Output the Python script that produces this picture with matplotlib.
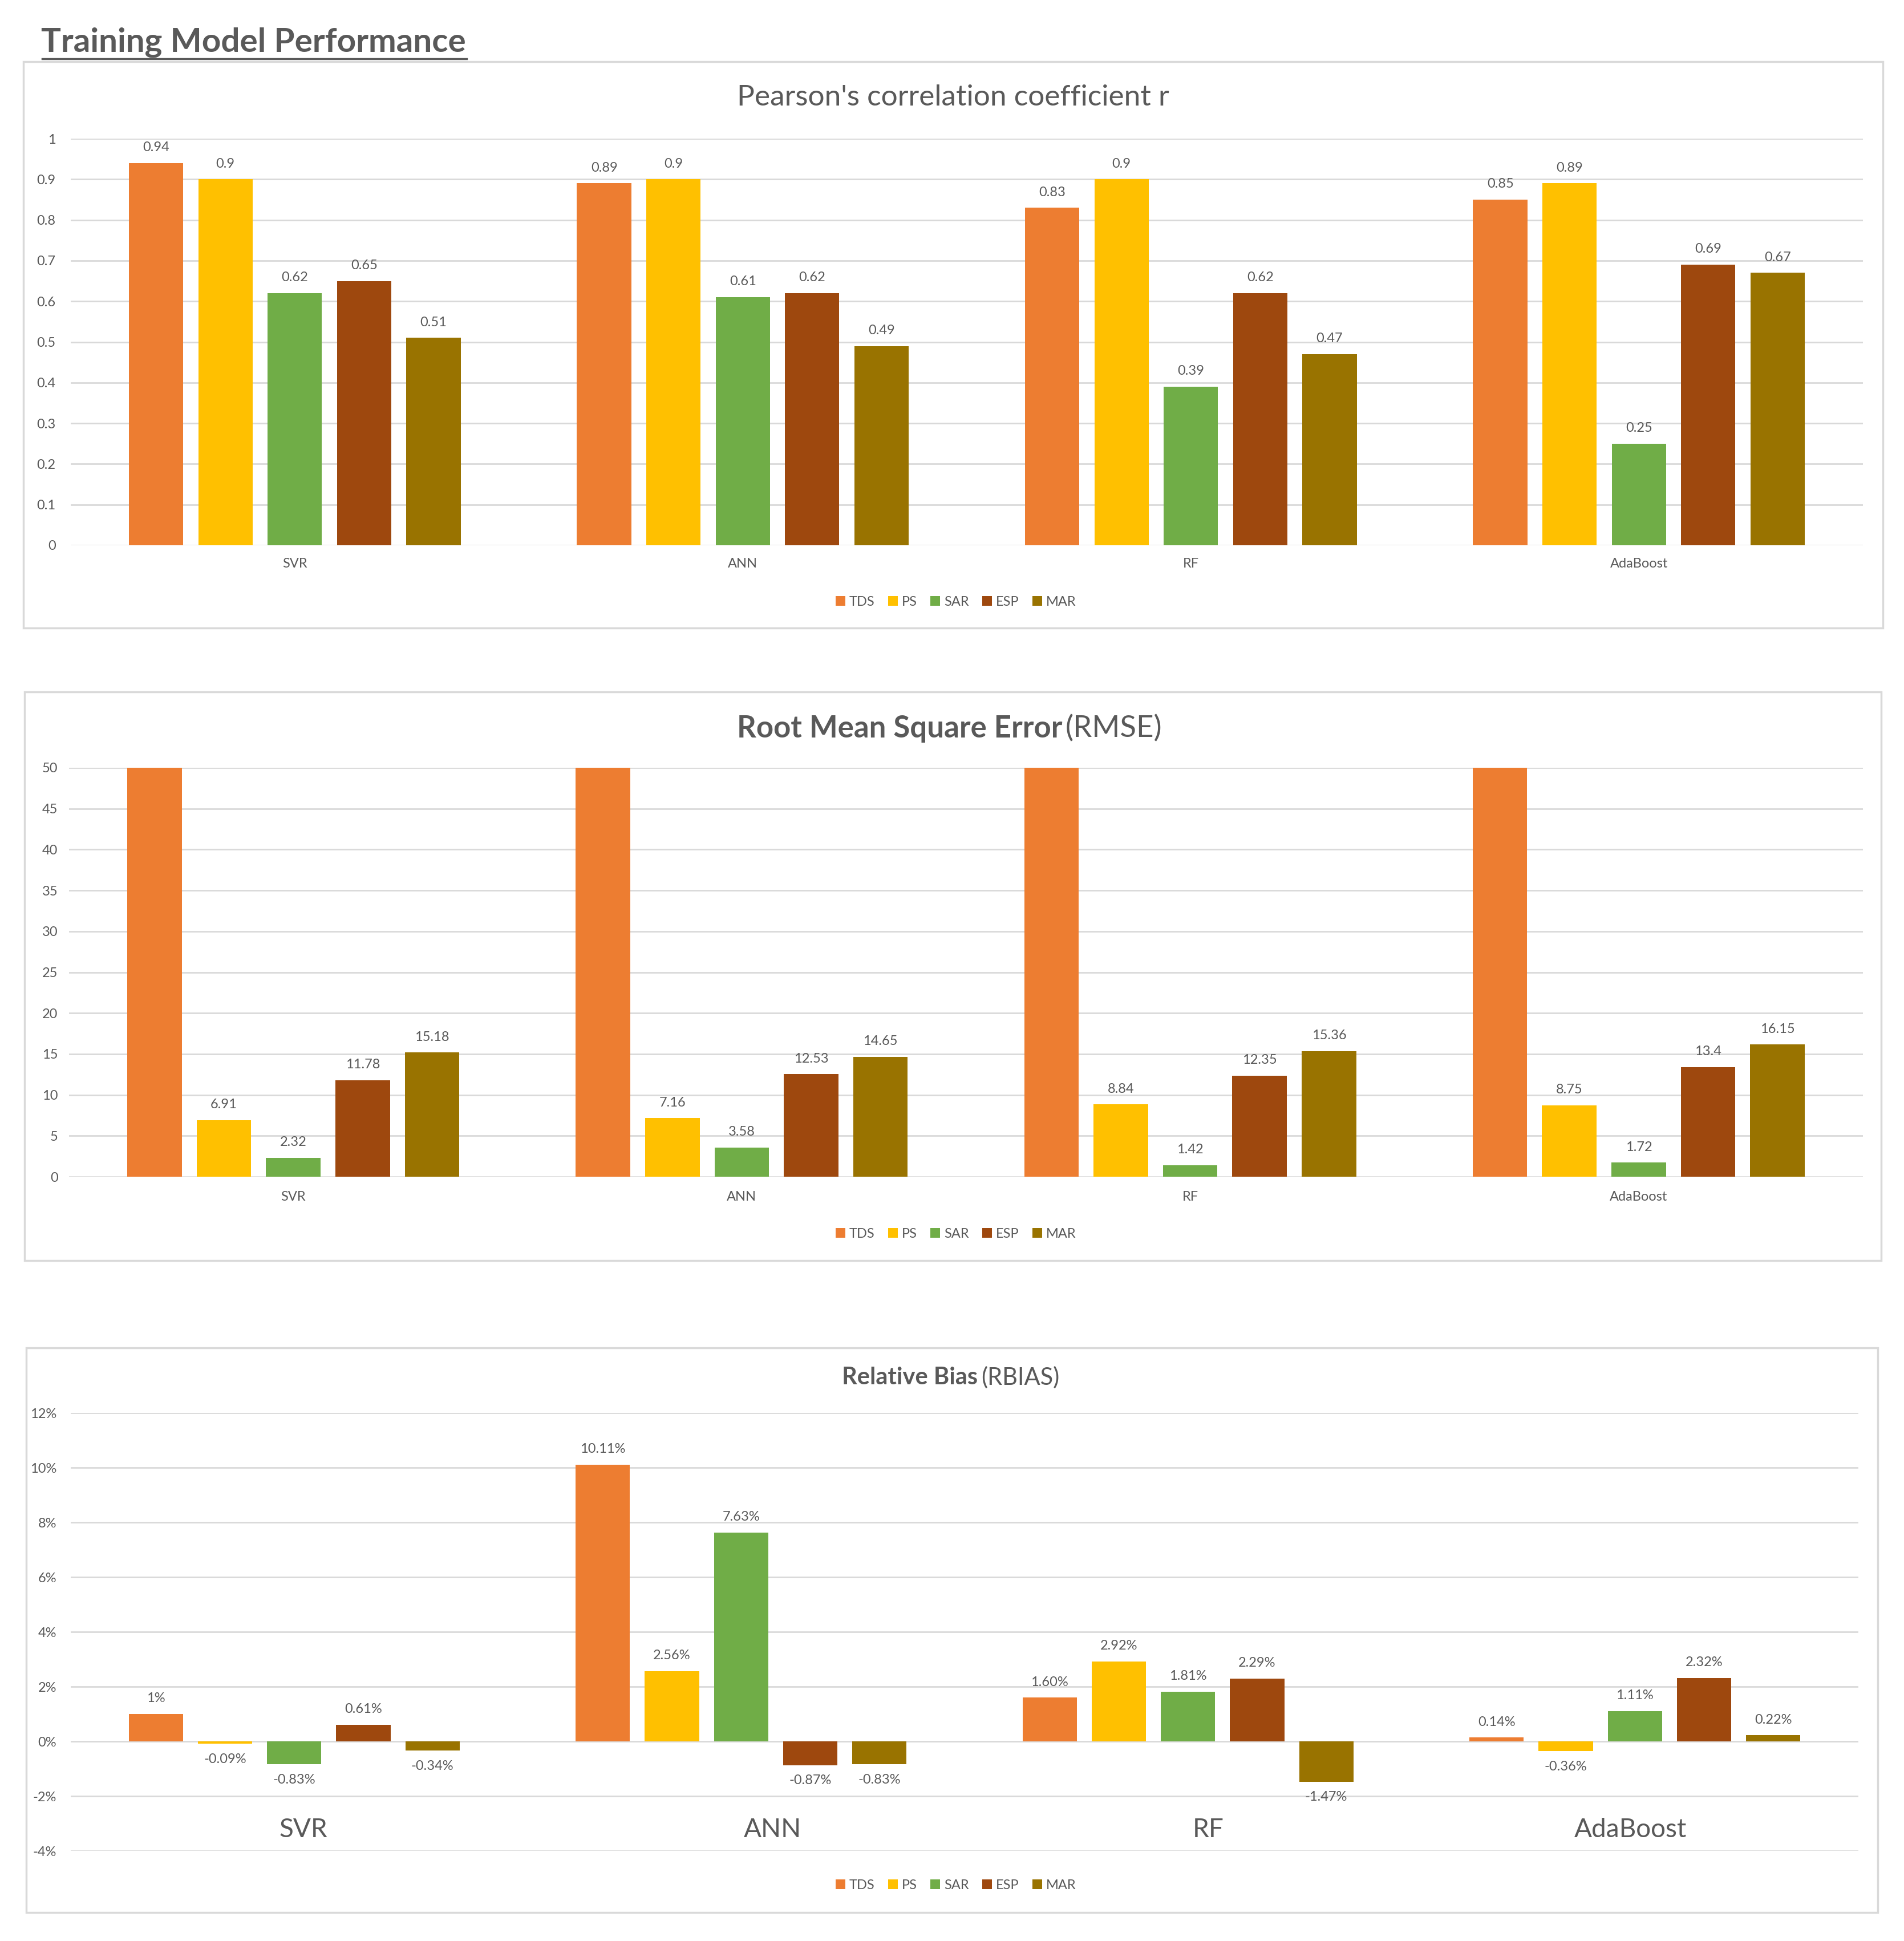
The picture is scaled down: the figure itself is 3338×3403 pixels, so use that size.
import matplotlib
matplotlib.use("Agg")
import matplotlib.pyplot as plt
import numpy as np
from matplotlib.patches import Rectangle
from matplotlib.lines import Line2D

plt.rcParams['font.family'] = ['Lato', 'DejaVu Sans']

models = ["SVR", "ANN", "RF", "AdaBoost"]
series = ["TDS", "PS", "SAR", "ESP", "MAR"]
colors = ["#ED7D31", "#FFC000", "#70AD47", "#9E480E", "#997300"]

# Pearson's r, one list per series (SVR, ANN, RF, AdaBoost)
r_tds = [0.94, 0.89, 0.83, 0.85]
r_ps = [0.9, 0.9, 0.9, 0.89]
r_sar = [0.62, 0.61, 0.39, 0.25]
r_esp = [0.65, 0.62, 0.62, 0.69]
r_mar = [0.51, 0.49, 0.47, 0.67]

# RMSE; TDS bars run off the top of the axis (>= 50), no labels shown
rmse_tds = [50, 50, 50, 50]
rmse_ps = [6.91, 7.16, 8.84, 8.75]
rmse_sar = [2.32, 3.58, 1.42, 1.72]
rmse_esp = [11.78, 12.53, 12.35, 13.4]
rmse_mar = [15.18, 14.65, 15.36, 16.15]

# RBIAS in percent
rb_tds = [1.0, 10.11, 1.60, 0.14]
rb_ps = [-0.09, 2.56, 2.92, -0.36]
rb_sar = [-0.83, 7.63, 1.81, 1.11]
rb_esp = [0.61, -0.87, 2.29, 2.32]
rb_mar = [-0.34, -0.83, -1.47, 0.22]
rb_tds_lbl = ["1%", "10.11%", "1.60%", "0.14%"]
rb_ps_lbl = ["-0.09%", "2.56%", "2.92%", "-0.36%"]
rb_sar_lbl = ["-0.83%", "7.63%", "1.81%", "1.11%"]
rb_esp_lbl = ["0.61%", "-0.87%", "2.29%", "2.32%"]
rb_mar_lbl = ["-0.34%", "-0.83%", "-1.47%", "0.22%"]

TXT = "#595959"
GRID = "#D9D9D9"
W, H = 3338, 3403
FS = 17

fig = plt.figure(figsize=(W / 100, H / 100), dpi=100)


def px_box(left, right, top, bottom):
    return [left / W, 1 - bottom / H, (right - left) / W, (bottom - top) / H]


def bars(ax, data, labels, show):
    x = np.arange(len(models))
    step = 0.1547
    width = 0.1215
    for i, vals in enumerate(data):
        b = ax.bar(x + (i - 2) * step, vals, width, color=colors[i], label=series[i], zorder=3)
        if not show[i]:
            continue
        for rect, v, lab in zip(b, vals, labels[i]):
            cx = rect.get_x() + rect.get_width() / 2
            if v >= 0:
                ax.annotate(lab, (cx, v), xytext=(0, 12), textcoords="offset points",
                            ha="center", va="bottom", fontsize=FS, color=TXT)
            else:
                ax.annotate(lab, (cx, v), xytext=(0, -12), textcoords="offset points",
                            ha="center", va="top", fontsize=FS, color=TXT)
    ax.set_xlim(-0.5, len(models) - 0.5)
    for s in ax.spines.values():
        s.set_visible(False)
    ax.yaxis.grid(True, color=GRID, lw=2)
    ax.set_axisbelow(True)
    ax.tick_params(axis="both", length=0, labelsize=FS, labelcolor=TXT)


def panel_box(left, right, top, bottom):
    fig.patches.append(Rectangle((left / W, 1 - bottom / H), (right - left) / W, (bottom - top) / H,
                                 transform=fig.transFigure, fill=False, edgecolor=GRID, lw=2.5))


def legend(ax, y_px):
    ax.legend(loc="center", bbox_to_anchor=(0.502, 1 - y_px / H), bbox_transform=fig.transFigure,
              ncol=5, frameon=False, fontsize=FS, handlelength=0.7, handleheight=0.7,
              handletextpad=0.3, columnspacing=1.0, labelcolor=TXT)


def two_part_title(x_px, y_px, bold, normal, size):
    t = fig.text(x_px / W, 1 - y_px / H, bold, fontsize=size, fontweight="bold", color=TXT,
                 ha="left", va="center")
    plt.annotate(normal, xy=(1, 0.5), xycoords=t, xytext=(4, 0), textcoords="offset points",
                 fontsize=size, color=TXT, ha="left", va="center")


# main title
fig.text(72 / W, 1 - 74 / H, "Training Model Performance", fontsize=42, fontweight="bold",
         color=TXT, ha="left", va="center")
fig.add_artist(Line2D([74 / W, 818 / W], [1 - 103 / H, 1 - 103 / H], color=TXT, lw=2.5,
                      transform=fig.transFigure))

# panel 1: Pearson
panel_box(41, 3301, 108, 1101)
ax1 = fig.add_axes(px_box(124, 3266, 243, 956))
data1 = [r_tds, r_ps, r_sar, r_esp, r_mar]
bars(ax1, data1, [["{:g}".format(v) for v in d] for d in data1], [True] * 5)
ax1.set_ylim(0, 1)
ax1.set_yticks(np.arange(0, 1.01, 0.1))
ax1.set_yticklabels(["{:g}".format(round(v, 1)) for v in np.arange(0, 1.01, 0.1)])
ax1.tick_params(axis="y", pad=19)
ax1.set_xticks(range(len(models)))
ax1.set_xticklabels(models)
ax1.tick_params(axis="x", pad=16)
fig.text(0.5006, 1 - 171 / H, "Pearson's correlation coefficient r", fontsize=37, color=TXT,
         ha="center", va="center")
legend(ax1, 1055)

# panel 2: RMSE
panel_box(43, 3298, 1213, 2210)
ax2 = fig.add_axes(px_box(121, 3266, 1346, 2063))
data2 = [rmse_tds, rmse_ps, rmse_sar, rmse_esp, rmse_mar]
bars(ax2, data2, [["{:g}".format(v) for v in d] for d in data2], [False, True, True, True, True])
ax2.set_ylim(0, 50)
ax2.set_yticks(range(0, 51, 5))
ax2.tick_params(axis="y", pad=14)
ax2.set_xticks(range(len(models)))
ax2.set_xticklabels(models)
ax2.tick_params(axis="x", pad=18)
two_part_title(1292, 1277, "Root Mean Square Error", "(RMSE)", 38)
legend(ax2, 2163)

# panel 3: RBIAS
panel_box(46, 3292, 2363, 3353)
ax3 = fig.add_axes(px_box(124, 3258, 2477, 3245))
data3 = [rb_tds, rb_ps, rb_sar, rb_esp, rb_mar]
bars(ax3, data3, [rb_tds_lbl, rb_ps_lbl, rb_sar_lbl, rb_esp_lbl, rb_mar_lbl], [True] * 5)
ax3.set_ylim(-4, 12)
ax3.set_yticks(range(-4, 13, 2))
ax3.set_yticklabels(["{}%".format(v) for v in range(-4, 13, 2)])
ax3.tick_params(axis="y", pad=18)
ax3.set_xticks([])
# category names were placed as free text boxes, a little off centre
name_shift = [0.02, 0.07, 0.045, -0.01]
for i, m in enumerate(models):
    ax3.text(i + name_shift[i], 0.048, m, transform=ax3.get_xaxis_transform(), fontsize=33,
             color=TXT, ha="center", va="center")
two_part_title(1476, 2415, "Relative Bias", "(RBIAS)", 30)
legend(ax3, 3305)

fig.savefig("out.png", dpi=100, facecolor="white")
